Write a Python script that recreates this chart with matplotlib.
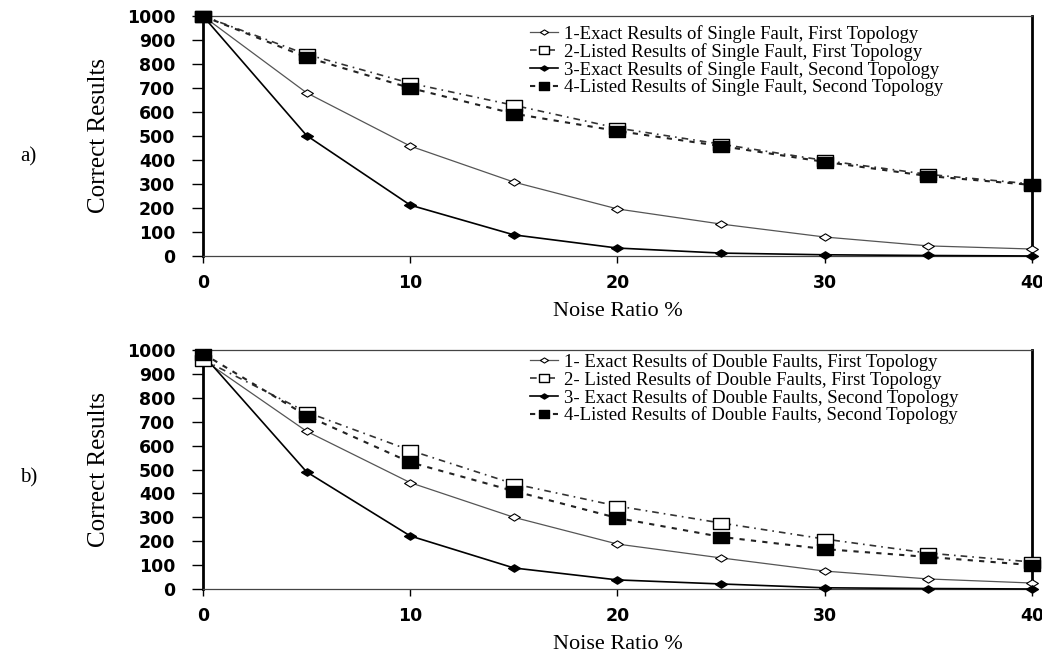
import numpy as np
import matplotlib
matplotlib.use("Agg")
import matplotlib.pyplot as plt
from matplotlib.path import Path

# noise ratio (%)
noise = [0, 5, 10, 15, 20, 25, 30, 35, 40]

# a) single fault
single_exact_1 = [1000, 680, 458, 308, 196, 133, 79, 42, 29]
single_listed_1 = [1000, 840, 720, 628, 533, 466, 398, 340, 300]
single_exact_2 = [1000, 502, 212, 88, 33, 12, 5, 2, 0]
single_listed_2 = [1000, 828, 700, 593, 521, 458, 392, 333, 296]

# b) double faults
double_exact_1 = [960, 660, 445, 300, 188, 130, 75, 42, 25]
double_listed_1 = [960, 740, 580, 440, 347, 276, 209, 150, 113]
double_exact_2 = [980, 490, 222, 88, 38, 21, 5, 2, 0]
double_listed_2 = [985, 725, 530, 410, 297, 218, 167, 134, 100]

labels_a = ["1-Exact Results of Single Fault, First Topology",
            "2-Listed Results of Single Fault, First Topology",
            "3-Exact Results of Single Fault, Second Topology",
            "4-Listed Results of Single Fault, Second Topology"]
labels_b = ["1- Exact Results of Double Faults, First Topology",
            "2- Listed Results of Double Faults, First Topology",
            "3- Exact Results of Double Faults, Second Topology",
            "4-Listed Results of Double Faults, Second Topology"]

# flattened marker shapes
diamond = Path([(-1, 0), (0, 0.62), (1, 0), (0, -0.62), (-1, 0)], closed=True)
rect = Path([(-1, -0.72), (1, -0.72), (1, 0.72), (-1, 0.72), (-1, -0.72)], closed=True)

serif = "Liberation Serif"

fig = plt.figure(figsize=(10.42, 6.54), dpi=100)


def draw_panel(ax, series, labels, leg_xy):
    e1, l1, e2, l2 = series
    ax.plot(noise, e1, color="#555555", lw=0.9, marker=diamond, ms=8.5,
            mfc="white", mec="black", mew=0.8, clip_on=False, label=labels[0], zorder=3)
    ax.plot(noise, l1, color="#333333", lw=1.2, ls=(0, (4, 3, 1, 3)), marker=rect, ms=11,
            mfc="white", mec="black", mew=1.0, clip_on=False, label=labels[1], zorder=4)
    ax.plot(noise, e2, color="black", lw=1.2, marker=diamond, ms=8.5,
            mfc="black", mec="black", clip_on=False, label=labels[2], zorder=3)
    ax.plot(noise, l2, color="#222222", lw=1.5, ls=(0, (2.5, 3)), marker=rect, ms=11,
            mfc="black", mec="black", clip_on=False, label=labels[3], zorder=5)

    ax.set_xlim(0, 40)
    ax.set_ylim(0, 1000)
    ax.set_xticks([0, 10, 20, 30, 40])
    ax.set_yticks(np.arange(0, 1001, 100))
    ax.tick_params(axis="y", direction="out", length=8, width=1, pad=12)
    ax.tick_params(axis="x", direction="out", length=5, width=1, pad=8)
    for lab in ax.get_xticklabels() + ax.get_yticklabels():
        lab.set_fontfamily("DejaVu Sans")
        lab.set_fontweight("bold")
        lab.set_fontsize(12.5)
    ax.spines["left"].set_linewidth(2.0)
    ax.spines["right"].set_linewidth(2.0)
    ax.spines["top"].set_linewidth(0.9)
    ax.spines["top"].set_color("#444444")
    ax.spines["bottom"].set_linewidth(0.9)
    ax.spines["bottom"].set_color("#444444")

    ax.set_ylabel("Correct Results", fontfamily=serif, fontsize=18, labelpad=12)
    ax.set_xlabel("Noise Ratio %", fontfamily=serif, fontsize=16, labelpad=7)

    ax.legend(loc="upper left", bbox_to_anchor=leg_xy, bbox_transform=fig.transFigure,
              frameon=False, prop={"family": serif, "size": 13.5},
              handlelength=1.5, handletextpad=0.3, labelspacing=0.0,
              borderpad=0, borderaxespad=0, markerscale=0.7)


ax_a = fig.add_axes([0.1948, 0.6086, 0.7956, 0.3669])
ax_b = fig.add_axes([0.1948, 0.0994, 0.7956, 0.3654])

draw_panel(ax_a, [single_exact_1, single_listed_1, single_exact_2, single_listed_2],
           labels_a, (530 / 1042, 1 - 25 / 654))
draw_panel(ax_b, [double_exact_1, double_listed_1, double_exact_2, double_listed_2],
           labels_b, (530 / 1042, 1 - 353 / 654))

fig.text(20 / 1042, 1 - 157 / 654, "a)", fontfamily=serif, fontsize=15, va="center")
fig.text(20 / 1042, 1 - 478 / 654, "b)", fontfamily=serif, fontsize=15, va="center")

fig.savefig("out.png", dpi=100)
